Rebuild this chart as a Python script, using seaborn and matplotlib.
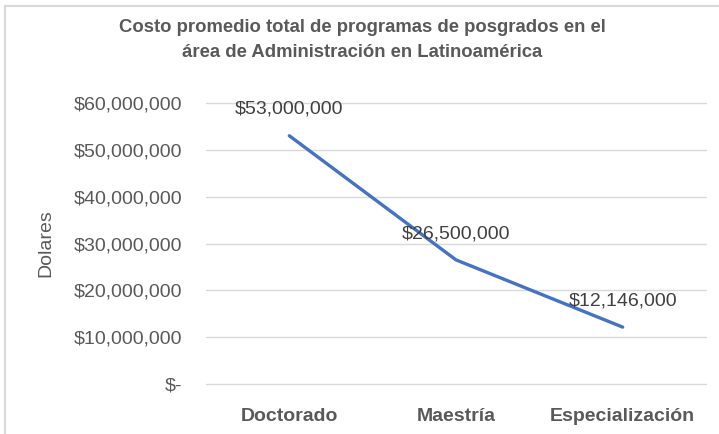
import matplotlib
matplotlib.use("Agg")
import matplotlib.pyplot as plt
from matplotlib import font_manager
from matplotlib.lines import Line2D
from matplotlib.ticker import FuncFormatter
import seaborn as sns
import pandas as pd

categories = ["Doctorado", "Maestría", "Especialización"]
values = [53000000, 26500000, 12146000]
yticks = [0, 10000000, 20000000, 30000000, 40000000, 50000000, 60000000]

sns.set_theme(style="white")
names = {f.name for f in font_manager.fontManager.ttflist}
fam = "Liberation Sans Narrow" if "Liberation Sans Narrow" in names else "Liberation Sans"
plt.rcParams["font.family"] = [fam, "DejaVu Sans"]

gray = "#595959"
df = pd.DataFrame({"cat": categories, "val": values})

fig = plt.figure(figsize=(7.19, 4.34), dpi=100)
ax = fig.add_axes([206/719, 1-384/434, 500/719, 281/434])

sns.lineplot(data=df, x="cat", y="val", ax=ax, color="#4472C4", linewidth=2.4, sort=False)

ax.set_xlim(-0.5, 2.5)
ax.set_ylim(0, 60000000)
ax.set_yticks(yticks)

def fmt(v, pos=None):
    if v == 0:
        return "$-"
    return "${:,.0f}".format(v)

ax.yaxis.set_major_formatter(FuncFormatter(fmt))
ax.grid(axis="y", color="#D9D9D9", linewidth=1)
ax.grid(axis="x", visible=False)
for gl in ax.get_ygridlines():
    gl.set_clip_on(False)
for s in ax.spines.values():
    s.set_visible(False)
ax.tick_params(axis="y", length=0, pad=17, labelsize=14, labelcolor=gray)
ax.tick_params(axis="x", length=0, pad=17, labelsize=14, labelcolor=gray)
for lab in ax.get_xticklabels():
    lab.set_fontweight("bold")
ax.set_xlabel("")
ax.set_ylabel("Dolares", fontsize=14, color=gray)
ax.yaxis.set_label_coords(-(206 - 54) / 500, 0.5)

for i, v in enumerate(values):
    ax.annotate(fmt(v), (i, v), xytext=(0, 19), textcoords="offset points",
                ha="center", va="center", fontsize=14, color="#404040")

fig.text(362/719, 1-40/434, "Costo promedio total de programas de posgrados en el\nárea de Administración en Latinoamérica",
         ha="center", va="center", fontsize=13.3, fontweight="bold", color=gray, linespacing=1.55)

fig.add_artist(Line2D([5/719, 1], [1-6/434, 1-6/434], transform=fig.transFigure, color="#D9D9D9", linewidth=1.5))
fig.add_artist(Line2D([5/719, 5/719], [0, 1-6/434], transform=fig.transFigure, color="#D9D9D9", linewidth=1.5))

fig.savefig("out.png", dpi=100)
